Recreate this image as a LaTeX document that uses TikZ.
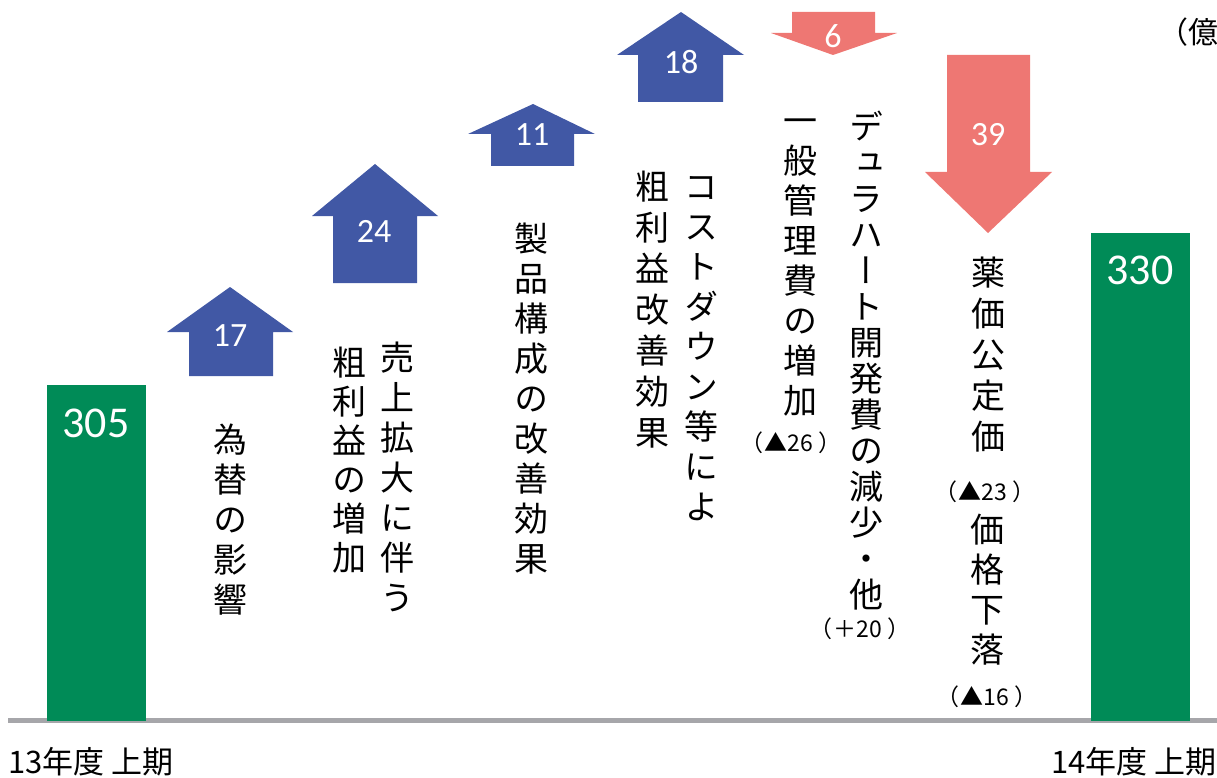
\documentclass[tikz,border=0pt]{standalone}
\usepackage{fontspec}
\setmainfont{Noto Sans CJK JP}
\newfontfamily\jpvert[RawFeature=+vert]{Noto Sans CJK JP}
\newfontfamily\numfont{Carlito}

\definecolor{barGreen}{RGB}{0,139,87}
\definecolor{upBlue}{RGB}{65,88,165}
\definecolor{downRed}{RGB}{238,119,115}
\definecolor{axisGray}{RGB}{166,166,170}

\newcommand{\paren}[1]{（\hspace{1pt}#1\hspace{5pt}）}

\tikzset{
	vcol/.style={font={\jpvert\fontsize{34}{#1}\selectfont}, align=center, inner sep=0pt},
	note/.style={font={\fontsize{23}{26}\selectfont}, inner sep=0pt},
	arrnum/.style={font={\numfont\fontsize{34}{40}\selectfont}, text=white, inner sep=0pt},
	barnum/.style={font={\numfont\fontsize{44}{50}\selectfont}, text=white, inner sep=0pt},
	period/.style={font={\fontsize{31}{36}\selectfont}, inner sep=0pt, anchor=base west},
	axisline/.style={draw=axisGray, line width=5pt}
}

\begin{document}
\begin{tikzpicture}[x=1pt,y=-1pt]
	\useasboundingbox (0,0) rectangle (1217,778);

	\draw[axisline] (8,720.5) -- (1217,720.5);

	\fill[barGreen] (47,385) rectangle (146,721);
	\fill[barGreen] (1091,233) rectangle (1190,721);
	\node[barnum] (v305) at (96,423) {305};
	\node[barnum] (v330) at (1140,270) {330};

	\fill[upBlue] (189,376) -- (189,332) -- (167,332) -- (230,287) -- (293,332) -- (273,332) -- (273,376) -- cycle;
	\fill[upBlue] (333,283) -- (333,216) -- (312,216) -- (375,164) -- (438,216) -- (417,216) -- (417,283) -- cycle;
	\fill[upBlue] (491,166) -- (491,134) -- (468,134) -- (533,104) -- (595,134) -- (574,134) -- (574,166) -- cycle;
	\fill[upBlue] (638,102) -- (638,55) -- (617,55) -- (681,12) -- (744,55) -- (723,55) -- (723,102) -- cycle;
	\fill[downRed] (792,12) -- (792,33) -- (771,33) -- (833,55) -- (897,33) -- (875,33) -- (875,12) -- cycle;
	\fill[downRed] (947,55) -- (947,172) -- (925,172) -- (988,233) -- (1052,172) -- (1030,172) -- (1030,55) -- cycle;

	\node[arrnum] (d17) at (230,336) {17};
	\node[arrnum] (d24) at (374,231) {24};
	\node[arrnum] (d11) at (532,135) {11};
	\node[arrnum] (d18) at (681,62) {18};
	\node[arrnum] (d6) at (833,36) {6};
	\node[arrnum] (d39) at (988,135) {39};

	\node[vcol=40] (fx) at (230,520) {為\\替\\の\\影\\響};
	\node[vcol=40] (sales1) at (397,477) {売\\上\\拡\\大\\に\\伴\\う};
	\node[vcol=39] (sales2) at (349,460) {粗\\利\\益\\の\\増\\加};
	\node[vcol=40] (mix) at (531,399) {製\\品\\構\\成\\の\\改\\善\\効\\果};
	\node[vcol=40] (cost1) at (701,349) {コ\\ス\\ト\\ダ\\ウ\\ン\\等\\に\\よ};
	\node[vcol=41] (cost2) at (652,310) {粗\\利\\益\\改\\善\\効\\果};
	\node[vcol=40] (sga) at (800,268) {一\\般\\管\\理\\費\\の\\増\\加};
	\node[note] (sgaval) at (791,443) {\paren{▲26}};
	\node[vcol=36] (rnd) at (866,361) {デ\\ュ\\ラ\\ハ\\ー\\ト\\開\\発\\費\\の\\減\\少\\・\\他};
	\node[note] (rndval) at (860,629) {\paren{＋20}};
	\node[vcol=41] (nhi) at (988,355) {薬\\価\\公\\定\\価};
	\node[note] (nhival) at (985,492) {\paren{▲23}};
	\node[vcol=40] (price) at (987,590) {価\\格\\下\\落};
	\node[note] (priceval) at (987,697) {\paren{▲16}};

	\node[period] (fy13) at (8,773) {13年度 上期};
	\node[period] (fy14) at (1051,773) {14年度 上期};
	\node[font={\fontsize{30}{34}\selectfont}, inner sep=0pt, anchor=west] (unit) at (1158,32) {（億};
\end{tikzpicture}
\end{document}
